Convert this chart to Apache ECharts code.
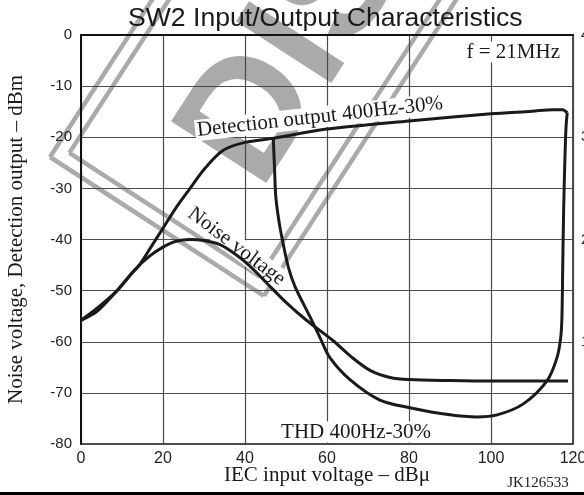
<!DOCTYPE html>
<html>
<head>
<meta charset="utf-8">
<script src="https://cdn.jsdelivr.net/npm/echarts@6/dist/echarts.min.js"></script>
<style>
  html, body { margin: 0; padding: 0; background: #fff; }
  #chart { width: 584px; height: 495px; }
</style>
</head>
<body>
<div id="chart"></div>
<script>
// 读图得到的数据：x = IEC 输入电压 (dBμ)，y = dBm（THD 为右轴 %）
const detectionOutput = [
  [0, -55.8], [4, -54], [8.8, -50], [12, -47], [14.4, -44.8], [17.6, -40.8],
  [20, -37.8], [23, -34], [26.6, -30], [30, -26.3], [34.6, -22.6], [40, -21],
  [47, -20.2], [60, -18.4], [80, -16.8], [100, -15.4], [110, -14.9],
  [115, -14.6], [117.5, -14.6], [118.6, -15.2]
];
const noiseVoltage = [
  [0, -55.8], [4, -53.4], [8.8, -50], [13, -46], [16.8, -43.2], [20, -41.5],
  [23, -40.4], [26.5, -40], [30, -40.2], [33.9, -41], [37.5, -42.8],
  [41.2, -45.2], [45.4, -48.6], [50, -52.3], [55, -55.8], [61.5, -59.8],
  [66, -63], [70.5, -65.6], [75.4, -67], [80, -67.4], [90, -67.6],
  [100, -67.7], [110, -67.7], [118.8, -67.7]
];
// THD 400Hz-30%（右轴，%）
const thd = [
  [46.9, 2.985], [47.2, 2.7], [47.5, 2.425], [48.3, 2.175], [49.3, 1.96],
  [50.6, 1.725], [52.2, 1.54], [55.9, 1.24], [58.3, 1.04], [60.7, 0.845],
  [65.6, 0.63], [72.9, 0.43], [80.2, 0.355], [90, 0.285], [96.6, 0.265],
  [101.5, 0.285], [107.8, 0.39], [113.7, 0.62], [116.1, 0.845], [117, 1.04],
  [117.3, 1.24], [117.5, 1.75], [117.7, 2.25], [118, 2.75], [118.3, 3.1],
  [118.6, 3.24]
];
const xRange = [0, 120, 20];
const leftRange = [-80, 0, 10];
const rightRange = [0, 4, 1];

const serif = '"Liberation Serif", "Times New Roman", serif';
const sans = '"Liberation Sans", Arial, sans-serif';
const ink = '#1a1a1a';
const stamp = '#aaa';

const chart = echarts.init(document.getElementById('chart'));

// 图中的注释文字（白底，压在曲线下面）
const note = (text, x, y, rot, extra) => ({
  type: 'text', x, y, rotation: rot, z: 5,
  style: Object.assign({
    text, fill: ink, font: '21px ' + serif,
    align: 'center', verticalAlign: 'middle',
    backgroundColor: '#fff', padding: [0, 2]
  }, extra || {})
});

const curve = (name, data, axis) => ({
  name, type: 'line', data, yAxisIndex: axis, z: 10,
  showSymbol: false, smooth: 0.3,
  lineStyle: { color: ink, width: 3 }
});

// 印章边框：局部坐标下的线段
const edge = (x1, y1, x2, y2) => ({
  type: 'line', shape: { x1, y1, x2, y2 },
  style: { stroke: stamp, lineWidth: 4.5 }
});
const frame = (d) => [
  edge(d, d, 500, d),
  edge(d, d, d, 255 - d),
  edge(d, 255 - d, 500, 255 - d)
];

chart.setOption({
  animation: false,
  title: {
    text: 'SW2 Input/Output Characteristics',
    left: 128, top: 5, padding: 0,
    textStyle: { fontFamily: sans, fontSize: 26.6, fontWeight: 'normal', color: ink }
  },
  grid: {
    left: 81, right: 11, top: 35, bottom: 51,
    outerBoundsMode: 'none',
    show: true, borderColor: '#111', borderWidth: 1.5
  },
  xAxis: {
    type: 'value', min: xRange[0], max: xRange[1], interval: xRange[2],
    name: 'IEC input voltage – dBμ', nameLocation: 'middle', nameGap: 21,
    nameMoveOverlap: false,
    nameTextStyle: { fontFamily: serif, fontSize: 21, color: ink, verticalAlign: 'top' },
    axisLine: { lineStyle: { color: '#111', width: 2 } },
    axisTick: { show: false },
    axisLabel: { fontFamily: sans, fontSize: 16, color: '#222', margin: 7 },
    splitLine: { lineStyle: { color: '#4a4a4a', width: 1.2 } }
  },
  yAxis: [{
    type: 'value', min: leftRange[0], max: leftRange[1], interval: leftRange[2],
    name: 'Noise voltage, Detection output – dBm', nameLocation: 'middle', nameGap: 54,
    nameMoveOverlap: false,
    nameTextStyle: { fontFamily: serif, fontSize: 21, color: ink },
    axisLine: { show: true, lineStyle: { color: '#111', width: 2 } },
    axisTick: { show: false },
    axisLabel: { fontFamily: sans, fontSize: 15, color: '#222', margin: 9 },
    splitLine: { lineStyle: { color: '#4a4a4a', width: 1.2 } }
  }, {
    type: 'value', position: 'right', min: rightRange[0], max: rightRange[1], interval: rightRange[2],
    axisLine: { show: false }, axisTick: { show: false }, splitLine: { show: false },
    axisLabel: {
      fontFamily: sans, fontSize: 15, color: '#222', margin: 8,
      formatter: v => (v === 0 ? '' : String(v))
    }
  }],
  graphic: [
    // 水印印章（斜放的双线框 + 大字）
    {
      type: 'group', x: 50, y: 157, rotation: 57 * Math.PI / 180, z: 3, silent: true,
      children: [
        { type: 'text', x: 85, y: 150,
          style: { text: 'DISCONTINUED', fill: stamp, font: 'bold 165px ' + sans, verticalAlign: 'middle' } }
      ].concat(frame(0), frame(14))
    },
    note('Detection output 400Hz-30%', 320, 117, 6.3 * Math.PI / 180),
    note('Noise voltage', 236.5, 246.5, -37 * Math.PI / 180),
    note('THD 400Hz-30%', 356, 432, 0),
    note('f = 21MHz', 562, 52, 0, { align: 'right' }),
    { type: 'text', x: 538, y: 483, z: 20,
      style: { text: 'JK126533', fill: ink, font: '15px ' + serif, align: 'center', verticalAlign: 'middle' } },
    { type: 'rect', shape: { x: 0, y: 492, width: 584, height: 3 }, style: { fill: '#000' }, z: 20 }
  ],
  series: [
    curve('Detection output', detectionOutput, 0),
    curve('Noise voltage', noiseVoltage, 0),
    curve('THD', thd, 1)
  ]
});
</script>
</body>
</html>
